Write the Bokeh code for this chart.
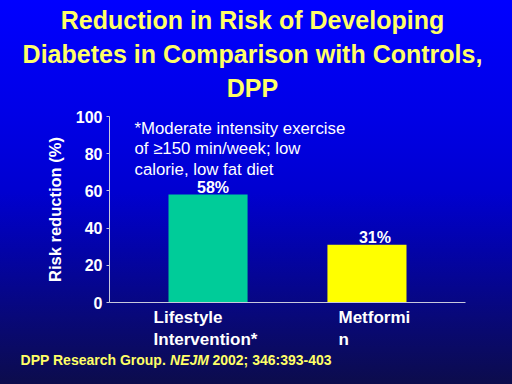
from bokeh.plotting import figure
from bokeh.models import (ColumnDataSource, Label, LabelSet, FixedTicker, Range1d, LinearAxis,
                          GlobalInlineStyleSheet, InlineStyleSheet)
from bokeh.core.properties import value
from bokeh.embed import file_html
from bokeh.resources import INLINE

# ---------------- data ----------------
categories = ["Lifestyle\nIntervention*", "Metformi\nn"]
risk_reduction = [58, 31]
value_labels = ["58%", "31%"]
bar_colors = ["#00cc99", "#ffff00"]
y_ticks = [0, 20, 40, 60, 80, 100]
title_lines = ["Reduction in Risk of Developing",
               "Diabetes in Comparison with Controls,",
               "DPP"]
note_lines = ["*Moderate intensity exercise",
              "of \u2265150 min/week; low",
              "calorie, low fat diet"]
footer_parts = ["DPP Research Group.", "NEJM", "2002; 346:393-403"]

# ---------------- layout ----------------
FONT = "Liberation Sans"
FW, FH = 356, 186
XS, XE = -0.62, 1.62
PX = FW / (XE - XS)
LEFT, RIGHT, TOP, BOTTOM = 109, 47, 116, 82


def dx(px):
    # pixels right of the frame's left edge -> data x
    return round(XS + px / PX, 5)


def dy(px):
    # pixels above the frame's bottom edge -> data y
    return px * 100.0 / FH


def style_text_axis(ax, size, color, style="bold", standoff=0, lh=1.2, line=None):
    ax.axis_line_color = line
    ax.major_tick_line_color = None
    ax.minor_tick_line_color = None
    ax.major_tick_out = 0
    ax.major_tick_in = 0
    ax.major_label_text_font = FONT
    ax.major_label_text_font_style = style
    ax.major_label_text_font_size = size
    ax.major_label_text_line_height = lh
    ax.major_label_text_color = color
    ax.major_label_standoff = standoff
    return ax


def text_axis(ticks, labels, size, color, style="bold", standoff=0, lh=1.2):
    ax = LinearAxis(ticker=FixedTicker(ticks=ticks),
                    major_label_overrides={t: s for t, s in zip(ticks, labels)})
    return style_text_axis(ax, size, color, style, standoff, lh)


p = figure(frame_width=FW, frame_height=FH, output_backend="svg", toolbar_location=None,
           x_range=Range1d(XS, XE), y_range=Range1d(0, 100),
           min_border_left=LEFT, min_border_right=RIGHT,
           min_border_top=TOP, min_border_bottom=BOTTOM)
p.background_fill_alpha = 0
p.border_fill_alpha = 0
p.outline_line_color = None
p.grid.visible = False
p.title.visible = False

grad = ("linear-gradient(180deg, #0000ff 0%, #0000e6 30%, #0000d0 50%, "
        "#0303a8 65%, #08087a 82%, #0c0c4c 100%)")
p.stylesheets = [
    GlobalInlineStyleSheet(css="html, body { background: %s; background-attachment: fixed; }" % grad),
    InlineStyleSheet(css=":host { background: %s; }" % grad),
]

xa = p.below[0]   # the figure's own x axis
ya = p.left[0]    # the figure's own y axis

# bars
x_idx = list(range(len(categories)))
src = ColumnDataSource(dict(x=x_idx, top=risk_reduction, color=bar_colors,
                            lab=value_labels, lab_dx=[5, 8]))
p.vbar(x="x", top="top", width=0.4975, bottom=0, source=src,
       fill_color="color", line_color=None)

# y axis
ya.ticker = FixedTicker(ticks=y_ticks)
ya.axis_label = "Risk reduction (%)"
ya.axis_label_text_font = FONT
ya.axis_label_text_font_style = "bold"
ya.axis_label_text_font_size = "16.5px"
ya.axis_label_text_color = "white"
ya.axis_label_standoff = 9
ya.major_label_text_font = FONT
ya.major_label_text_font_style = "bold"
ya.major_label_text_font_size = "16px"
ya.major_label_text_color = "white"
ya.major_label_standoff = 4
ya.axis_line_color = "#c8c8dc"
ya.major_tick_line_color = "#c8c8dc"
ya.major_tick_out = 3
ya.major_tick_in = 0
ya.minor_tick_line_color = None

# x axis: category labels, each line left aligned as on the slide
line1 = [c.split("\n")[0] for c in categories]
line2 = [c.split("\n")[1] for c in categories]
bar_px = [(i - XS) * PX for i in x_idx]          # bar centres, px from frame left
cat_dx = [-54.5, -28.5]                           # label block left edge vs bar centre
w1 = [69.0, 71.8]                                  # rendered widths of first lines
w2 = [103.9, 10.4]                                 # rendered widths of second lines
t1 = [dx(b + o + w / 2) for b, o, w in zip(bar_px, cat_dx, w1)]
t2 = [dx(b + o + w / 2) for b, o, w in zip(bar_px, cat_dx, w2)]

xa.ticker = FixedTicker(ticks=t1)
xa.major_label_overrides = {t: s for t, s in zip(t1, line1)}
style_text_axis(xa, "17px", "white", standoff=5, line="#c8c8dc")
p.add_layout(text_axis(t2, line2, "17px", "white", standoff=0), "below")

# footer: bold line with a gap where the italic journal name is overlaid
gap = "\u00a0" * 10
foot_text = footer_parts[0] + " " + gap + " " + footer_parts[2]
p.add_layout(text_axis([dx(175.7 - LEFT)], [foot_text], "14px", "#ffff66", standoff=0), "below")
p.add_layout(text_axis([dx(189 - LEFT)], [footer_parts[1]], "14px", "#ffff66",
                       style="bold italic", standoff=-19), "below")

# title as a label-only axis above the frame (lines centred)
title_ax = text_axis([dx(252 - LEFT)], ["\n".join(title_lines)], "25px", "#ffff66", standoff=15)
p.add_layout(title_ax, "above")

# value labels above bars
p.add_layout(LabelSet(x="x", y="top", text="lab", source=src, x_offset="lab_dx", y_offset=2,
                      text_align="center", text_baseline="alphabetic",
                      text_font=value(FONT), text_font_style="bold", text_font_size="16px",
                      text_color="white"))

# note
for i, line in enumerate(note_lines):
    p.add_layout(Label(x=dx(25), y=dy(174 - 20.3 * i), text=line, text_align="left",
                       text_baseline="alphabetic", text_font=FONT, text_font_style="normal",
                       text_font_size="16.8px", text_color="white"))

open("out.html", "w").write(file_html(p, INLINE))
